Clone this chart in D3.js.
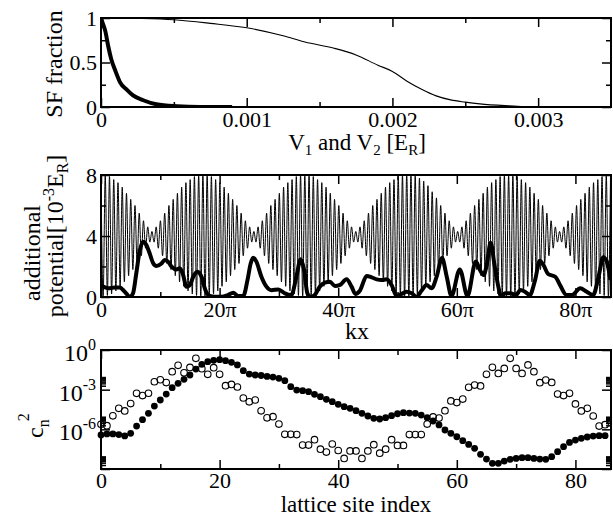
<!DOCTYPE html>
<html>
<head>
<meta charset="utf-8">
<script src="https://cdn.jsdelivr.net/npm/d3@7"></script>
<style>
  body { margin: 0; background: #fff; }
  svg text { font-family: "Liberation Serif", "Times New Roman", serif; fill: #000; }
</style>
</head>
<body>
<svg id="chart" width="613" height="516"></svg>
<script>
// ---- top panel: SF fraction vs V1 = V2 ----
const sfThinV = [0, 0.00025, 0.0005, 0.00075, 0.001, 0.00125, 0.0014, 0.0016, 0.00175, 0.0019,
  0.002, 0.0021, 0.0022, 0.0023, 0.0024, 0.0025, 0.0026, 0.0028, 0.003, 0.0035];
const sfThin = [1, 0.995, 0.98, 0.94, 0.89, 0.8, 0.73, 0.66, 0.585, 0.47,
  0.4, 0.29, 0.2, 0.125, 0.08, 0.055, 0.035, 0.013, 0, 0];
const sfThickV = [0, 0.00001, 0.00003, 0.00005, 0.00007, 0.0001, 0.00013, 0.00018, 0.00022,
  0.00029, 0.00038, 0.00052, 0.00068, 0.0009];
const sfThick = [1, 0.95, 0.85, 0.68, 0.54, 0.4, 0.28, 0.19, 0.13, 0.076, 0.03, 0.008, 0, 0];

// ---- middle panel: additional potential vs kx (kx in units of pi) ----
const potStep = 0.358; // spacing of the extrema of the fast oscillation
const potFast = [
  8.0,0.0,8.0,0.1,7.9,0.2,7.7,0.4,7.5,0.7,7.2,1.0,6.8,1.4,6.4,1.8,6.0,2.2,5.5,2.7,5.0,3.2,4.6,3.6,
  4.3,3.6,4.6,3.2,5.0,2.7,5.5,2.2,6.0,1.8,6.4,1.4,6.8,1.0,7.2,0.7,7.5,0.4,7.7,0.2,7.9,0.1,8.0,0.0,
  8.0,0.0,8.0,0.1,7.9,0.2,7.7,0.4,7.5,0.7,7.2,1.0,6.8,1.4,6.4,1.8,6.0,2.2,5.5,2.7,5.0,3.2,4.6,3.6,
  4.3,3.6,4.6,3.2,5.0,2.7,5.5,2.2,6.0,1.8,6.4,1.4,6.8,1.0,7.2,0.7,7.5,0.4,7.7,0.2,7.9,0.1,8.0,0.0,
  8.0,0.0,8.0,0.1,7.9,0.2,7.7,0.4,7.5,0.7,7.2,1.0,6.8,1.4,6.4,1.8,6.0,2.2,5.5,2.7,5.0,3.2,4.6,3.6,
  4.3,3.6,4.6,3.2,5.0,2.7,5.5,2.2,6.0,1.8,6.4,1.4,6.8,1.0,7.2,0.7,7.5,0.4,7.7,0.2,7.9,0.1,8.0,0.0,
  8.1,0.0,8.1,0.1,8.0,0.2,7.8,0.4,7.6,0.7,7.3,1.0,6.9,1.4,6.5,1.8,6.0,2.2,5.5,2.7,5.0,3.2,4.6,3.6,
  4.3,3.6,4.6,3.2,5.0,2.7,5.5,2.2,6.0,1.8,6.4,1.4,6.8,1.0,7.2,0.7,7.5,0.4,7.7,0.2,7.9,0.1,8.0,0.0,
  8.0,0.0,8.0,0.1,7.9,0.2,7.7,0.4,7.5,0.7,7.2,1.0,6.8,1.4,6.4,1.8,6.0,2.2,5.5,2.7,5.0,3.2,4.6,3.6,
  4.3,3.6,4.6,3.2,5.0,2.7,5.5,2.2,6.0,1.8,6.4,1.4,6.8,1.0,7.2,0.7,7.5,0.4,7.7,0.2,7.9,0.1,8.0,0.0,
  8.0];
const potKx = [0, 1.2, 2.3, 3.15, 4.0, 4.85, 5.4, 5.95, 6.5, 7.1, 7.65, 8.2, 8.8, 9.35, 10.2, 10.75,
  11.3, 11.9, 12.7, 13.3, 13.85, 14.4, 15.0, 15.55, 16.25, 16.95, 17.6, 18.35, 19.2, 20.3, 21.4,
  22.3, 23.1, 24.0, 24.7, 25.25, 25.65, 26.2, 27.05, 27.9, 28.75, 29.9, 31.0, 32.1, 32.95, 33.65,
  34.25, 34.8, 35.4, 36.05, 36.9, 37.75, 38.6, 39.45, 40.3, 41.4, 42.25, 42.9, 43.65, 44.8, 45.65,
  46.5, 47.3, 48.15, 49.0, 49.85, 50.7, 51.5, 52.4, 53.2, 54.05, 54.9, 55.75, 56.6, 57.5, 58.3,
  59.1, 60.5, 61.8, 63.2, 63.9, 64.5, 65.0, 65.7, 66.4, 67.0, 67.5, 68.1, 69.0, 70.0, 70.7, 71.5,
  72.3, 73.2, 74.0, 74.6, 75.4, 76.6, 77.4, 78.5, 79.4, 80.8, 81.9, 83.0, 83.9, 84.7, 85.3, 85.9];
const potThick = [0.75, 0.57, 0.63, 0.63, 0.35, 0.02, 0.24, 1.55, 2.97, 3.63, 3.41, 2.87, 2.21, 2.03,
  2.2, 2.43, 2.32, 1.99, 1.81, 1.88, 1.44, 0.68, 0.79, 1.33, 1.66, 1.33, 0.46, 0.07, 0.02, 0.02,
  0.13, 0.28, 0.07, 0.07, 1.11, 2.21, 2.58, 2.32, 1.33, 0.68, 0.45, 0.5, 0.24, 0.13, 1.33, 2.47,
  1.77, 0.24, 0.0, 0.13, 0.68, 0.94, 1.0, 0.72, 0.79, 1.16, 0.68, 0.2, 0.41, 1.38, 1.29, 1.16,
  1.11, 1.16, 0.79, 0.07, 0.2, 0.35, 0.24, 0.02, 0.41, 0.79, 0.57, 1.33, 2.55, 1.33, 0.07, 1.81,
  0.07, 2.32, 1.77, 1.44, 2.0, 3.55, 1.99, 0.68, 0.0, 0.24, 0.24, 0.13, 0.46, 0.35, 0.13, 1.11,
  2.38, 2.1, 1.51, 1.33, 0.79, 0.13, 0.13, 0.57, 0.35, 0.13, 1.33, 2.6, 2.32, 1.11];

// ---- bottom panel: |c_n|^2 per lattice site (log10 of the value) ----
const filledExp = [-6.43, -6.35, -6.35, -6.4, -6.5, -6.3, -5.75, -5.27, -4.79, -4.24,
  -3.78, -3.33, -2.85, -2.52, -2.22, -1.89, -1.44, -1.08, -0.88, -0.78,
  -0.73, -0.81, -0.93, -1.13, -1.56, -1.82, -1.89, -1.93, -2.0, -2.05,
  -2.14, -2.32, -2.77, -3.03, -3.08, -3.15, -3.35, -3.53, -3.73, -3.91,
  -4.11, -4.29, -4.41, -4.59, -4.79, -4.99, -5.17, -5.22, -5.12, -4.97,
  -4.82, -4.74, -4.77, -4.79, -4.92, -5.12, -5.37, -5.67, -6.05, -6.3,
  -6.56, -6.86, -7.14, -7.44, -7.89, -8.25, -8.57, -8.57, -8.4, -8.27,
  -8.2, -8.14, -8.14, -8.2, -8.25, -8.27, -8.07, -7.69, -7.31, -6.99,
  -6.81, -6.68, -6.58, -6.51, -6.48, -6.48];
const openExp = [-5.62, -5.72, -4.98, -4.41, -4.61, -4.05, -3.28, -3.45, -3.27, -2.4,
  -2.25, -2.46, -1.64, -1.16, -1.72, -1.32, -0.63, -1.41, -1.84, -1.34,
  -1.84, -2.7, -2.6, -2.8, -3.63, -3.92, -3.78, -4.6, -5.13, -5.04,
  -5.6, -6.38, -6.38, -6.4, -7.19, -7.19, -6.78, -7.5, -7.72, -7.11,
  -7.6, -8.2, -7.63, -7.63, -8.2, -7.63, -7.16, -7.8, -7.5, -6.78,
  -7.22, -7.22, -6.4, -6.4, -6.4, -5.6, -5.06, -5.15, -4.59, -3.85,
  -3.98, -3.71, -2.82, -2.65, -2.72, -1.84, -1.31, -1.77, -1.39, -0.63,
  -1.39, -1.77, -1.13, -1.64, -2.47, -2.27, -2.45, -3.33, -3.45, -3.28,
  -4.08, -4.61, -4.41, -4.99, -5.75, -5.65];

// tick values
const sfXMajor = [0, 0.001, 0.002, 0.003];
const sfXMinor = [0.0005, 0.0015, 0.0025];
const sfYMajor = [0, 0.5, 1];
const sfYMinor = [0.25, 0.75];
const potXMajor = [0, 20, 40, 60, 80];
const potXMinor = [10, 30, 50, 70];
const potYMajor = [0, 4, 8];
const potYMinor = [2, 6];
const siteXMajor = [0, 20, 40, 60, 80];
const siteXMinor = [10, 30, 50, 70];
const logMajor = [1e-9, 1e-6, 1e-3, 1];
const logLabels = [["10", "0", 1], ["10", "-3", 1e-3], ["10", "-6", 1e-6]];
const logMinorMult = [2, 3, 4, 5, 6, 7, 8, 9];

const svg = d3.select("#chart");
const left = 101, right = 611;
const FONT = "'Liberation Serif', 'Times New Roman', serif";

function frame(top, bottom) {
  svg.append("rect")
    .attr("x", left).attr("y", top)
    .attr("width", right - left).attr("height", bottom - top)
    .attr("fill", "none").attr("stroke", "#000").attr("stroke-width", 2);
}

function tickSet(axis, tr, vals, size, fmt, pad) {
  const g = svg.append("g")
    .attr("transform", tr)
    .call(axis.tickValues(vals).tickSize(-size).tickSizeOuter(0)
      .tickPadding(pad || 4).tickFormat(fmt || (() => "")));
  g.select(".domain").remove();
  g.attr("font-size", 22);
  g.selectAll("text").style("font-family", FONT);
  g.selectAll("line").attr("stroke-width", 1.5);
  return g;
}

function allTicks(x, y, top, bottom, xMaj, xMin, yMaj, yMin, xFmt, yFmt, xPad) {
  tickSet(d3.axisBottom(x), `translate(0,${bottom})`, xMaj, 9, xFmt, xPad);
  tickSet(d3.axisBottom(x), `translate(0,${bottom})`, xMin, 5);
  tickSet(d3.axisTop(x), `translate(0,${top})`, xMaj, 9);
  tickSet(d3.axisTop(x), `translate(0,${top})`, xMin, 5);
  tickSet(d3.axisLeft(y), `translate(${left},0)`, yMaj, 9, yFmt);
  tickSet(d3.axisLeft(y), `translate(${left},0)`, yMin, 5);
  tickSet(d3.axisRight(y), `translate(${right},0)`, yMaj, 9);
  tickSet(d3.axisRight(y), `translate(${right},0)`, yMin, 5);
}

function clip(id, top, bottom) {
  svg.append("clipPath").attr("id", id).append("rect")
    .attr("x", left).attr("y", top - 1).attr("width", right - left).attr("height", bottom - top + 2);
}

// ========== panel 1 ==========
const p1 = { top: 18, bottom: 107 };
const x1 = d3.scaleLinear().domain([0, 0.0035]).range([left, right]);
const y1 = d3.scaleLinear().domain([0, 1]).range([p1.bottom, p1.top]);
clip("c1", p1.top, p1.bottom);
const line1 = d3.line().x(d => x1(d[0])).y(d => y1(d[1])).curve(d3.curveMonotoneX);
svg.append("path").datum(sfThinV.map((v, i) => [v, sfThin[i]]))
  .attr("d", line1).attr("fill", "none").attr("stroke", "#000").attr("stroke-width", 1.1)
  .attr("clip-path", "url(#c1)");
svg.append("path").datum(sfThickV.map((v, i) => [v, sfThick[i]]))
  .attr("d", line1).attr("fill", "none").attr("stroke", "#000").attr("stroke-width", 4)
  .attr("clip-path", "url(#c1)");
frame(p1.top, p1.bottom);
allTicks(x1, y1, p1.top, p1.bottom, sfXMajor, sfXMinor, sfYMajor, sfYMinor,
  d => d === 0 ? "0" : d3.format(".3f")(d), d => d === 0.5 ? "0.5" : d3.format("d")(d));

svg.append("text")
  .attr("transform", "translate(62,64) rotate(-90)")
  .attr("text-anchor", "middle").attr("font-size", 24)
  .text("SF fraction");

const xl1 = svg.append("text").attr("x", 357).attr("y", 150)
  .attr("text-anchor", "middle").attr("font-size", 23);
xl1.append("tspan").text("V");
xl1.append("tspan").attr("dy", 5).attr("font-size", 15).text("1");
xl1.append("tspan").attr("dy", -5).text(" and V");
xl1.append("tspan").attr("dy", 5).attr("font-size", 15).text("2");
xl1.append("tspan").attr("dy", -5).text(" [E");
xl1.append("tspan").attr("dy", 5).attr("font-size", 15).text("R");
xl1.append("tspan").attr("dy", -5).text("]");

// ========== panel 2 ==========
const p2 = { top: 175, bottom: 297 };
const x2 = d3.scaleLinear().domain([0, 86]).range([left, right]);
const y2 = d3.scaleLinear().domain([0, 8]).range([p2.bottom, p2.top]);
clip("c2", p2.top, p2.bottom);
svg.append("path").datum(potFast.map((v, i) => [i * potStep, v]))
  .attr("d", d3.line().x(d => x2(d[0])).y(d => y2(d[1])).curve(d3.curveMonotoneX))
  .attr("fill", "none").attr("stroke", "#000").attr("stroke-width", 1)
  .attr("clip-path", "url(#c2)");
svg.append("path").datum(potKx.map((k, i) => [k, potThick[i]]))
  .attr("d", d3.line().x(d => x2(d[0])).y(d => y2(d[1])).curve(d3.curveMonotoneX))
  .attr("fill", "none").attr("stroke", "#000").attr("stroke-width", 4)
  .attr("stroke-linejoin", "round").attr("clip-path", "url(#c2)");
frame(p2.top, p2.bottom);
allTicks(x2, y2, p2.top, p2.bottom, potXMajor, potXMinor, potYMajor, potYMinor,
  d => d === 0 ? "0" : d + "\u03c0", d => String(d));

svg.append("text")
  .attr("transform", "translate(40,253) rotate(-90)")
  .attr("text-anchor", "middle").attr("font-size", 24)
  .text("additional");
const yl2 = svg.append("text")
  .attr("transform", "translate(63,236) rotate(-90)")
  .attr("text-anchor", "middle").attr("font-size", 24);
yl2.append("tspan").text("potential[10");
yl2.append("tspan").attr("dy", -9).attr("font-size", 16).text("-3");
yl2.append("tspan").attr("dy", 9).text("E");
yl2.append("tspan").attr("dy", 5).attr("font-size", 16).text("R");
yl2.append("tspan").attr("dy", -5).text("]");

svg.append("text").attr("x", 357).attr("y", 339)
  .attr("text-anchor", "middle").attr("font-size", 24).text("kx");

// ========== panel 3 ==========
const p3 = { top: 350, bottom: 469 };
const x3 = d3.scaleLinear().domain([0, 86]).range([left, right]);
const y3 = d3.scaleLog().domain([1e-9, 1]).range([p3.bottom, p3.top]);
frame(p3.top, p3.bottom);
const logMinor = [];
[1e-9, 1e-6, 1e-3].forEach(b => logMinorMult.forEach(m => logMinor.push(m * b)));
allTicks(x3, y3, p3.top, p3.bottom, siteXMajor, siteXMinor, logMajor, logMinor,
  d => String(d), () => "", 3);

logLabels.forEach(([base, ex, v]) => {
  const t = svg.append("text").attr("x", 96).attr("y", y3(v) + 11)
    .attr("text-anchor", "end").attr("font-size", 24);
  t.append("tspan").text(base);
  t.append("tspan").attr("dy", -11).attr("font-size", 16).text(ex);
});

svg.append("g").selectAll("circle").data(filledExp).join("circle")
  .attr("cx", (d, i) => x3(i)).attr("cy", d => y3(Math.pow(10, d)))
  .attr("r", 3.4).attr("fill", "#000");
svg.append("g").selectAll("circle").data(openExp).join("circle")
  .attr("cx", (d, i) => x3(i)).attr("cy", d => y3(Math.pow(10, d)))
  .attr("r", 3.3).attr("fill", "none").attr("stroke", "#000").attr("stroke-width", 1.1);

const yl3 = svg.append("text")
  .attr("transform", "translate(43,438) rotate(-90)")
  .attr("font-size", 24);
yl3.append("tspan").text("c");
yl3.append("tspan").attr("dy", 6).attr("font-size", 16).text("n");
yl3.append("tspan").attr("dy", -20).attr("dx", -2).attr("font-size", 16).text("2");

svg.append("text").attr("x", 356).attr("y", 512)
  .attr("text-anchor", "middle").attr("font-size", 23).text("lattice site index");
</script>
</body>
</html>
